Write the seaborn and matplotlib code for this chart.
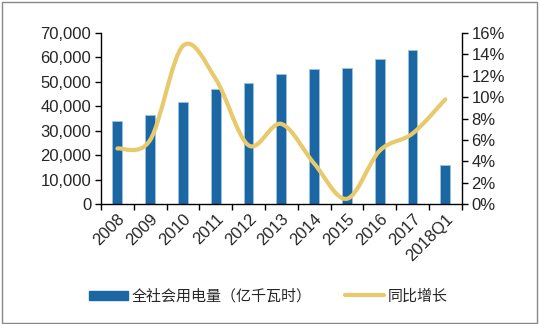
import matplotlib
matplotlib.use("Agg")
import matplotlib.pyplot as plt
import seaborn as sns
import pandas as pd
import numpy as np
from matplotlib.path import Path
from matplotlib.patches import PathPatch, Rectangle
from matplotlib.lines import Line2D
from matplotlib.ticker import FuncFormatter, MultipleLocator

categories = ["2008", "2009", "2010", "2011", "2012", "2013", "2014", "2015", "2016", "2017", "2018Q1"]
consumption = [34200, 36500, 41900, 47000, 49600, 53200, 55200, 55500, 59200, 63000, 15900]
growth = [5.2, 6.0, 14.8, 11.7, 5.5, 7.5, 3.8, 0.5, 5.0, 6.6, 9.8]
bar_label = "全社会用电量（亿千瓦时）"
line_label = "同比增长"

sns.set_theme(style="white")
plt.rcParams['font.family'] = ['Liberation Sans', 'Noto Sans CJK SC', 'DejaVu Sans']

BAR_C = "#1B67A3"
LINE_C = "#E8C96B"
FS = 12

fig = plt.figure(figsize=(5.4, 3.24), dpi=100)
fig.patches.append(Rectangle((0.004, 0.004), 0.99, 0.99, transform=fig.transFigure,
                             fill=False, edgecolor="#888888", linewidth=1.0))
ax = fig.add_axes([0.187, 0.370, 0.668, 0.528])

df = pd.DataFrame({"cat": categories, "val": consumption})
sns.barplot(data=df, x="cat", y="val", color=BAR_C, width=0.3, ax=ax, saturation=1,
            edgecolor="#9CC3E0", linewidth=0.6)
ax.set_xlim(-0.5, len(categories) - 0.5)
ax.set_ylim(0, 70000)
ax.yaxis.set_major_locator(MultipleLocator(10000))
ax.yaxis.set_major_formatter(FuncFormatter(lambda v, p: f"{int(v):,}"))
ax.set_xlabel("")
ax.set_ylabel("")

ax2 = ax.twinx()
ax2.set_ylim(0, 16)
ax2.yaxis.set_major_locator(MultipleLocator(2))
ax2.yaxis.set_major_formatter(FuncFormatter(lambda v, p: f"{int(v)}%"))

# smooth (Catmull-Rom) curve through the data points
xs = np.arange(len(growth), dtype=float)
ys = np.array(growth, dtype=float)
pts = np.column_stack([xs, ys])
verts = [tuple(pts[0])]
codes = [Path.MOVETO]
n = len(pts)
for i in range(n - 1):
    p0 = pts[i - 1] if i > 0 else pts[i]
    p1 = pts[i]
    p2 = pts[i + 1]
    p3 = pts[i + 2] if i + 2 < n else pts[i + 1]
    c1 = p1 + (p2 - p0) / 6.0
    c2 = p2 - (p3 - p1) / 6.0
    verts += [tuple(c1), tuple(c2), tuple(p2)]
    codes += [Path.CURVE4] * 3
ax2.add_patch(PathPatch(Path(verts, codes), facecolor="none", edgecolor=LINE_C,
                        linewidth=3.0, capstyle="round", joinstyle="round", zorder=5))

for a in (ax, ax2):
    for s in a.spines.values():
        s.set_visible(False)
    a.grid(False)
ax.spines["left"].set_visible(True)
ax.spines["bottom"].set_visible(True)
ax2.spines["right"].set_visible(True)
for s in [ax.spines["left"], ax.spines["bottom"], ax2.spines["right"]]:
    s.set_color("black")
    s.set_linewidth(1.0)

ax.set_xticks(np.arange(-0.5, len(categories), 1.0), minor=False)
ax.set_xticklabels([])
ax.set_xticks(np.arange(len(categories)), minor=True)
ax.set_xticklabels(categories, minor=True, rotation=45, ha="right", rotation_mode="anchor", fontsize=FS)
ax.tick_params(axis="x", which="major", length=4, width=1, direction="out", bottom=True, color="black")
ax.tick_params(axis="x", which="minor", length=0, pad=5)
ax.tick_params(axis="y", length=4, width=1, direction="out", left=True, color="black", labelsize=FS, pad=3)
ax2.tick_params(axis="y", length=4, width=1, direction="out", right=True, color="black", labelsize=FS, pad=3)

handles = [Rectangle((0, 0), 1, 1, color=BAR_C), Line2D([0], [0], color=LINE_C, linewidth=3.0)]
leg = fig.legend(handles, [bar_label, line_label], loc="center left", bbox_to_anchor=(89 / 540, 0.086),
                 ncol=2, frameon=False, handlelength=2.6, handleheight=0.55,
                 columnspacing=2.2, handletextpad=0.25, borderpad=0, borderaxespad=0,
                 prop={"family": ["Noto Sans CJK SC", "DejaVu Sans"], "size": 10.8})

fig.savefig("out.png", dpi=100)
